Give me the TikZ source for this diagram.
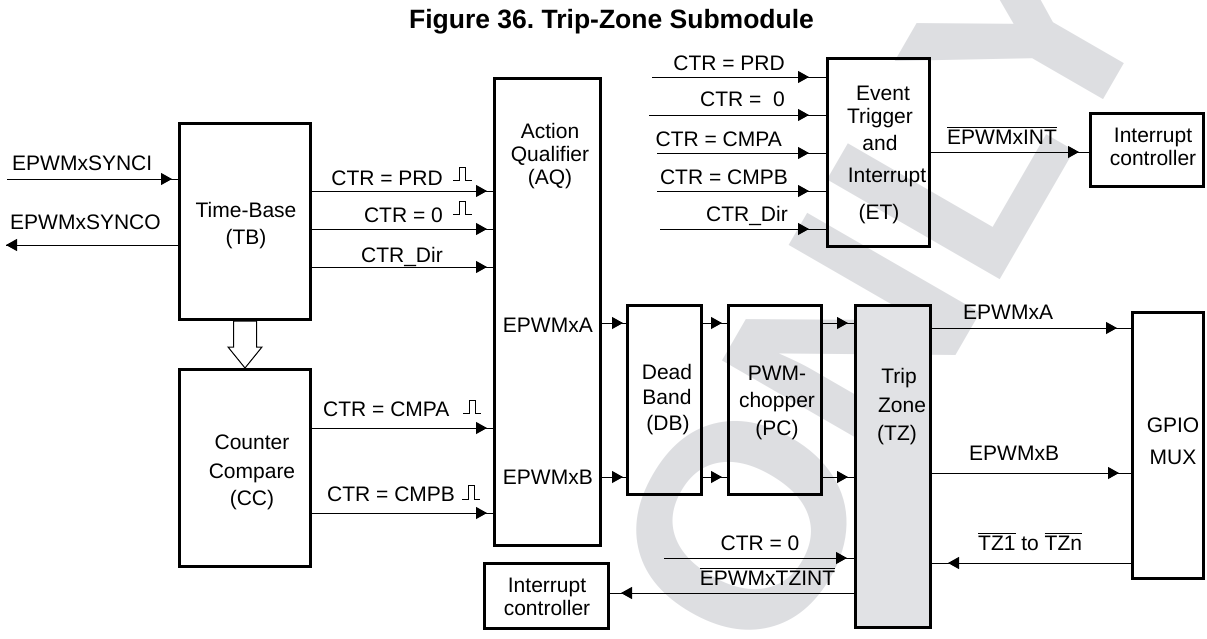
\documentclass[tikz,border=0pt]{standalone}
\usepackage{fontspec}
\setmainfont{Liberation Sans}
\usetikzlibrary{arrows.meta}
\definecolor{wm}{RGB}{221,222,225}
\definecolor{tzfill}{RGB}{225,226,229}
\newcommand{\ovl}[1]{\leavevmode\vbox{\hrule height 0.9pt\kern 2pt\hbox{#1}}}
\frenchspacing
\begin{document}
\begin{tikzpicture}[x=1pt,y={(0pt,-1pt)},
  box/.style={draw, line width=3pt, anchor=north west, inner sep=0pt},
  lbl/.style={font=\fontsize{21}{25}\selectfont, inner sep=0pt, text height=15pt, text depth=0pt},
  conn/.style={line width=1pt, -{Triangle[length=11pt,width=12pt]}, shorten >=#1, postaction={draw,-,shorten >=0pt}},
  conn/.default=6pt,
  pulse/.style={line width=1pt}]
\useasboundingbox (0,0) rectangle (1207,638);
% watermark
\begin{scope}
\clip (0,0) rectangle (1207,638);
\node[font=\bfseries\fontsize{290}{290}\selectfont, text=wm, rotate=60, inner sep=0pt] (wmark) at (881,286) {ONLY};
\end{scope}
% title
\node[font=\bfseries\fontsize{26.5}{30}\selectfont, inner sep=0pt, text height=19pt, text depth=0pt] (title) at (611.5,19) {Figure 36. Trip-Zone Submodule};
% boxes
\node[box, minimum width=131pt, minimum height=196pt] (tb) at (178,122) {};
\node[box, minimum width=131pt, minimum height=197pt] (cc) at (178,368) {};
\node[box, minimum width=106pt, minimum height=467pt] (aq) at (493,77) {};
\node[box, minimum width=102pt, minimum height=188pt] (et) at (826,57) {};
\node[box, minimum width=113pt, minimum height=73pt] (ict) at (1089,112) {};
\node[box, minimum width=74pt, minimum height=189pt] (db) at (626,304) {};
\node[box, minimum width=93pt, minimum height=189pt] (pc) at (727,304) {};
\node[box, fill=tzfill, minimum width=75pt, minimum height=322pt] (tz) at (854,304) {};
\node[box, minimum width=71pt, minimum height=266pt] (gpio) at (1131,311) {};
\node[box, minimum width=124pt, minimum height=65pt] (icb) at (483,562) {};
% box texts
\node[lbl] (tb1) at (246,210) {Time-Base};
\node[lbl] (tb2) at (246,237) {(TB)};
\node[lbl] (cc1) at (252,442) {Counter};
\node[lbl] (cc2) at (252,471) {Compare};
\node[lbl] (cc3) at (252,498) {(CC)};
\node[lbl] (aq1) at (550,131) {Action};
\node[lbl] (aq2) at (550,154) {Qualifier};
\node[lbl] (aq3) at (550,177) {(AQ)};
\node[lbl, anchor=east] (aqa) at (593,325) {EPWMxA};
\node[lbl, anchor=east] (aqb) at (593,477) {EPWMxB};
\node[lbl] (et1) at (883,93) {Event};
\node[lbl] (et2) at (880,116) {Trigger};
\node[lbl] (et3) at (880,143) {and};
\node[lbl] (et4) at (887,175) {Interrupt};
\node[lbl] (et5) at (879,212) {(ET)};
\node[lbl] (ict1) at (1153,135) {Interrupt};
\node[lbl] (ict2) at (1153,158) {controller};
\node[lbl] (db1) at (667,372) {Dead};
\node[lbl] (db2) at (667,397) {Band};
\node[lbl] (db3) at (668,423) {(DB)};
\node[lbl] (pc1) at (777,373) {PWM-};
\node[lbl] (pc2) at (777,400) {chopper};
\node[lbl] (pc3) at (777,428) {(PC)};
\node[lbl] (tz1) at (899,376) {Trip};
\node[lbl] (tz2) at (902,405) {Zone};
\node[lbl] (tz3) at (897,433) {(TZ)};
\node[lbl] (gp1) at (1173,425) {GPIO};
\node[lbl] (gp2) at (1173,457) {MUX};
\node[lbl] (icb1) at (547,585) {Interrupt};
\node[lbl] (icb2) at (547,608) {controller};
% level coordinates
\coordinate (si) at (7,179);
\coordinate (so) at (6,245);
\coordinate (yPRD) at (0,191);
\coordinate (yZ) at (0,229);
\coordinate (yDIR) at (0,267);
\coordinate (yCA) at (0,428);
\coordinate (yCB) at (0,513);
\coordinate (yA) at (0,323);
\coordinate (yB) at (0,477);
\coordinate (yEA) at (0,328);
\coordinate (yEB) at (0,473);
\coordinate (yTZ) at (0,563);
\coordinate (yTI) at (0,593);
\coordinate (yINT) at (0,152);
\coordinate (e1) at (652,77);
\coordinate (e2) at (649,115);
\coordinate (e3) at (657,153);
\coordinate (e4) at (657,191);
\coordinate (e5) at (660,229);
\coordinate (c0) at (664,558);
% connectors
\draw[conn] (si) -- (tb.west |- si);
\draw[conn=0pt] (tb.west |- so) -- (so);
\draw[conn] (tb.east |- yPRD) -- (aq.west |- yPRD);
\draw[conn] (tb.east |- yZ) -- (aq.west |- yZ);
\draw[conn] (tb.east |- yDIR) -- (aq.west |- yDIR);
\draw[conn] (cc.east |- yCA) -- (aq.west |- yCA);
\draw[conn] (cc.east |- yCB) -- (aq.west |- yCB);
\draw[conn=3pt] (aq.east |- yA) -- (db.west |- yA);
\draw[conn=3pt] (aq.east |- yB) -- (db.west |- yB);
\draw[conn=5pt] (db.east |- yA) -- (pc.west |- yA);
\draw[conn=5pt] (db.east |- yB) -- (pc.west |- yB);
\draw[conn] (pc.east |- yA) -- (tz.west |- yA);
\draw[conn] (pc.east |- yB) -- (tz.west |- yB);
\draw[conn=17pt] (e1) -- (et.west |- e1);
\draw[conn=17pt] (e2) -- (et.west |- e2);
\draw[conn=17pt] (e3) -- (et.west |- e3);
\draw[conn=17pt] (e4) -- (et.west |- e4);
\draw[conn=17pt] (e5) -- (et.west |- e5);
\draw[conn=10pt] (et.east |- yINT) -- (ict.west |- yINT);
\draw[conn=14pt] (tz.east |- yEA) -- (gpio.west |- yEA);
\draw[conn=12pt] (tz.east |- yEB) -- (gpio.west |- yEB);
\draw[conn=16pt] (gpio.west |- yTZ) -- (tz.east |- yTZ);
\draw[conn=7pt] (c0) -- (tz.west |- c0);
\draw[conn=11pt] (tz.west |- yTI) -- (icb.east |- yTI);
% hollow arrow TB -> CC
\draw[line width=1pt, fill=white] ([xshift=-11.5pt]tb.south) -- ++(0,26) -- ++(-5.5,0) -- (cc.north) -- ++(17,-21) -- ++(-5.5,0) -- ([xshift=11.5pt]tb.south) -- cycle;
% pulses
\draw[pulse] (453,180) -- (459,180) -- (459,167) -- (465,167) -- (465,180) -- (472,180);
\draw[pulse] (453,214) -- (459,214) -- (459,201) -- (465,201) -- (465,214) -- (472,214);
\draw[pulse] (463,413) -- (469,413) -- (469,400) -- (475,400) -- (475,413) -- (481,413);
\draw[pulse] (462,499) -- (468,499) -- (468,485) -- (474,485) -- (474,499) -- (480,499);
% connector labels
\node[lbl, anchor=west] (lsi) at (12,163) {EPWMxSYNCI};
\node[lbl, anchor=west] (lso) at (10,222) {EPWMxSYNCO};
\node[lbl, anchor=east] (l1) at (443,178) {CTR = PRD};
\node[lbl, anchor=east] (l2) at (443,215) {CTR = 0};
\node[lbl, anchor=east] (l3) at (443,255) {CTR\_Dir};
\node[lbl, anchor=west] (l4) at (323,409) {CTR = CMPA};
\node[lbl, anchor=west] (l5) at (327,494) {CTR = CMPB};
\node[lbl, anchor=east] (m1) at (785,63) {CTR = PRD};
\node[lbl, anchor=east] (m2) at (785,99) {CTR =\ \ 0};
\node[lbl, anchor=east] (m3) at (782,139) {CTR = CMPA};
\node[lbl, anchor=east] (m4) at (788,177) {CTR = CMPB};
\node[lbl, anchor=east] (m5) at (788,214) {CTR\_Dir};
\node[lbl] (lint) at (1002,137) {\ovl{EPWMxINT}};
\node[lbl, anchor=west] (lea) at (963,312) {EPWMxA};
\node[lbl, anchor=west] (leb) at (969,453) {EPWMxB};
\node[lbl, anchor=west] (ltz) at (978,543) {\ovl{TZ1} to \ovl{TZn}};
\node[lbl] (lc0) at (760,543) {CTR = 0};
\node[lbl] (ltzi) at (767.5,578) {\ovl{EPWMxTZINT}};
\end{tikzpicture}
\end{document}
